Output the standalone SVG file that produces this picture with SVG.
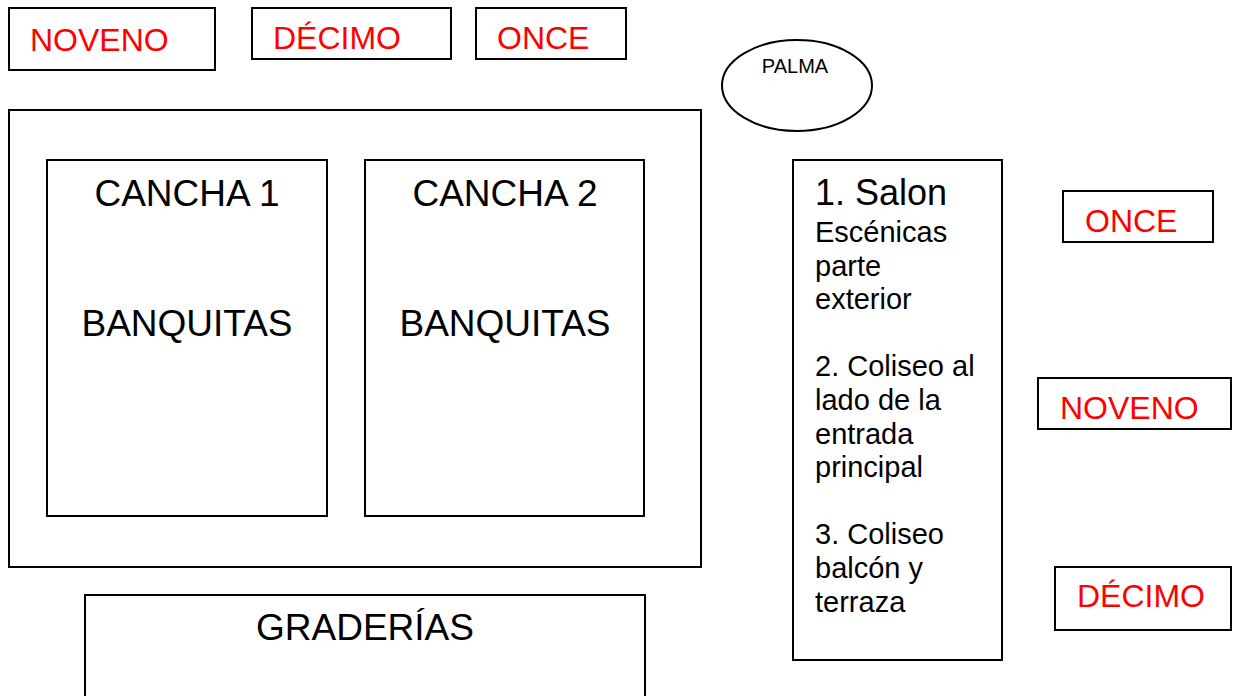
<svg xmlns="http://www.w3.org/2000/svg" width="1239" height="696" viewBox="0 0 1239 696">
<style>
.b{fill:#fff;stroke:#000;stroke-width:2}
.r{font-family:"Liberation Sans",Arial,sans-serif;font-size:32px;fill:#ff0000}
.k{font-family:"Liberation Sans",Arial,sans-serif;fill:#000}
.big{font-size:37px}
.mid{font-size:29px}
</style>
<rect width="1239" height="696" fill="#fff"/>
<g id="noveno-top"><rect class="b" x="9" y="8" width="206" height="62"/><text class="r" x="30" y="51">NOVENO</text></g>
<g id="decimo-top"><rect class="b" x="252" y="8" width="199" height="51"/><text class="r" x="273" y="49">DÉCIMO</text></g>
<g id="once-top"><rect class="b" x="476" y="8" width="150" height="51"/><text class="r" x="497" y="49">ONCE</text></g>
<g id="palma"><ellipse class="b" cx="797" cy="85.5" rx="75" ry="45.5"/><text class="k" x="795" y="73" font-size="20" text-anchor="middle">PALMA</text></g>
<g id="area"><rect class="b" x="9" y="110" width="692" height="457"/></g>
<g id="cancha1"><rect class="b" x="47" y="160" width="280" height="356"/><text class="k big" x="187" y="206" text-anchor="middle">CANCHA 1</text><text class="k big" x="187" y="336" text-anchor="middle">BANQUITAS</text></g>
<g id="cancha2"><rect class="b" x="365" y="160" width="279" height="356"/><text class="k big" x="505" y="206" text-anchor="middle">CANCHA 2</text><text class="k big" x="505" y="336" text-anchor="middle">BANQUITAS</text></g>
<g id="graderias"><rect class="b" x="85" y="595" width="560" height="110"/><text class="k big" x="365" y="640" text-anchor="middle">GRADERÍAS</text></g>
<g id="salon"><rect class="b" x="793" y="160" width="209" height="500"/>
<text class="k" x="815" y="205" font-size="36">1. Salon</text>
<text class="k mid" x="815"><tspan x="815" y="242">Escénicas</tspan><tspan x="815" y="275.6">parte</tspan><tspan x="815" y="309.2">exterior</tspan><tspan x="815" y="376.4">2. Coliseo al</tspan><tspan x="815" y="410">lado de la</tspan><tspan x="815" y="443.6">entrada</tspan><tspan x="815" y="477.2">principal</tspan><tspan x="815" y="544.4">3. Coliseo</tspan><tspan x="815" y="578">balcón y</tspan><tspan x="815" y="611.6">terraza</tspan></text></g>
<g id="once-right"><rect class="b" x="1063" y="191" width="150" height="51"/><text class="r" x="1085" y="232">ONCE</text></g>
<g id="noveno-right"><rect class="b" x="1038" y="378" width="193" height="51"/><text class="r" x="1060" y="419">NOVENO</text></g>
<g id="decimo-right"><rect class="b" x="1055" y="567" width="176" height="63"/><text class="r" x="1077" y="607">DÉCIMO</text></g>
<g id="connectors"/>
</svg>
